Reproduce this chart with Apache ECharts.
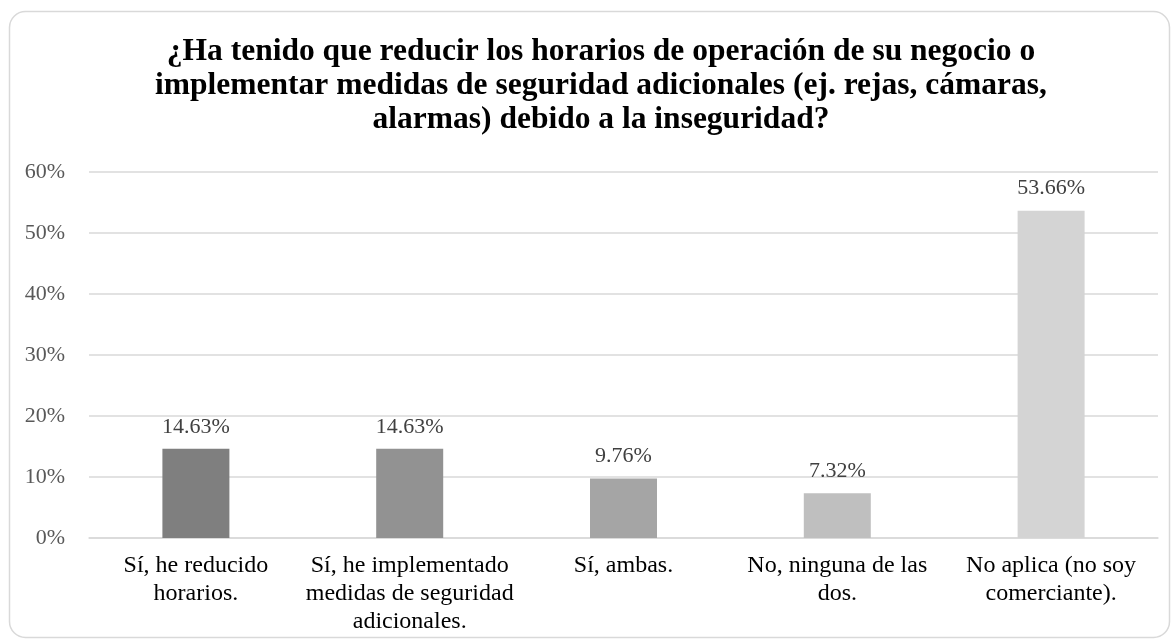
<!DOCTYPE html>
<html>
<head>
<meta charset="utf-8">
<script src="https://cdn.jsdelivr.net/npm/echarts@6/dist/echarts.min.js"></script>
<style>
  html, body { margin: 0; padding: 0; background: #fff; }
  #chart { width: 1176px; height: 644px; }
</style>
</head>
<body>
<div id="chart"></div>
<script>
  // datos
  var categorias = [
    "Sí, he reducido\nhorarios.",
    "Sí, he implementado\nmedidas de seguridad\nadicionales.",
    "Sí, ambas.",
    "No, ninguna de las\ndos.",
    "No aplica (no soy\ncomerciante)."
  ];
  var porcentajes = [14.63, 14.63, 9.76, 7.32, 53.66];
  var coloresBarras = ["#7f7f7f", "#929292", "#a5a5a5", "#bfbfbf", "#d4d4d4"];
  var titulo = "¿Ha tenido que reducir los horarios de operación de su negocio o\n" +
    "implementar medidas de seguridad adicionales (ej. rejas, cámaras,\n" +
    "alarmas) debido a la inseguridad?";

  var fuente = "'Liberation Serif', 'Times New Roman', serif";
  var chart = echarts.init(document.getElementById("chart"));

  var option = {
    animation: false,
    textStyle: { fontFamily: fuente },
    graphic: [{
      type: "rect",
      left: 7,
      top: 9,
      shape: { width: 1160, height: 626, r: 16 },
      style: { fill: "none", stroke: "#d9d9d9", lineWidth: 1.5 },
      z: -1
    }],
    title: {
      text: titulo,
      left: 596,
      top: 30,
      textAlign: "center",
      textStyle: {
        fontFamily: fuente,
        fontSize: 31.5,
        fontWeight: "bold",
        color: "#000",
        lineHeight: 34
      }
    },
    grid: {
      left: 89,
      right: 18,
      top: 172,
      bottom: 106
    },
    xAxis: {
      type: "category",
      data: categorias,
      axisLine: { show: true, lineStyle: { color: "#d9d9d9", width: 1.5 } },
      axisTick: { show: false },
      axisLabel: {
        interval: 0,
        color: "#000",
        fontFamily: fuente,
        fontSize: 24,
        lineHeight: 28,
        margin: 14
      }
    },
    yAxis: {
      type: "value",
      min: 0,
      max: 60,
      interval: 10,
      axisLine: { show: false },
      axisTick: { show: false },
      splitLine: { lineStyle: { color: "#d9d9d9", width: 1.5 } },
      axisLabel: {
        formatter: "{value}%",
        color: "#595959",
        fontFamily: fuente,
        fontSize: 22,
        margin: 24
      }
    },
    series: [{
      type: "bar",
      barWidth: 67,
      data: porcentajes.map(function (v, i) {
        return { value: v, itemStyle: { color: coloresBarras[i] } };
      }),
      label: {
        show: true,
        position: "top",
        distance: 11,
        formatter: function (p) { return p.value.toFixed(2) + "%"; },
        color: "#404040",
        fontFamily: fuente,
        fontSize: 22
      }
    }]
  };

  chart.setOption(option);
  window.addEventListener("resize", function () {
    chart.resize();
  });
</script>
</body>
</html>
